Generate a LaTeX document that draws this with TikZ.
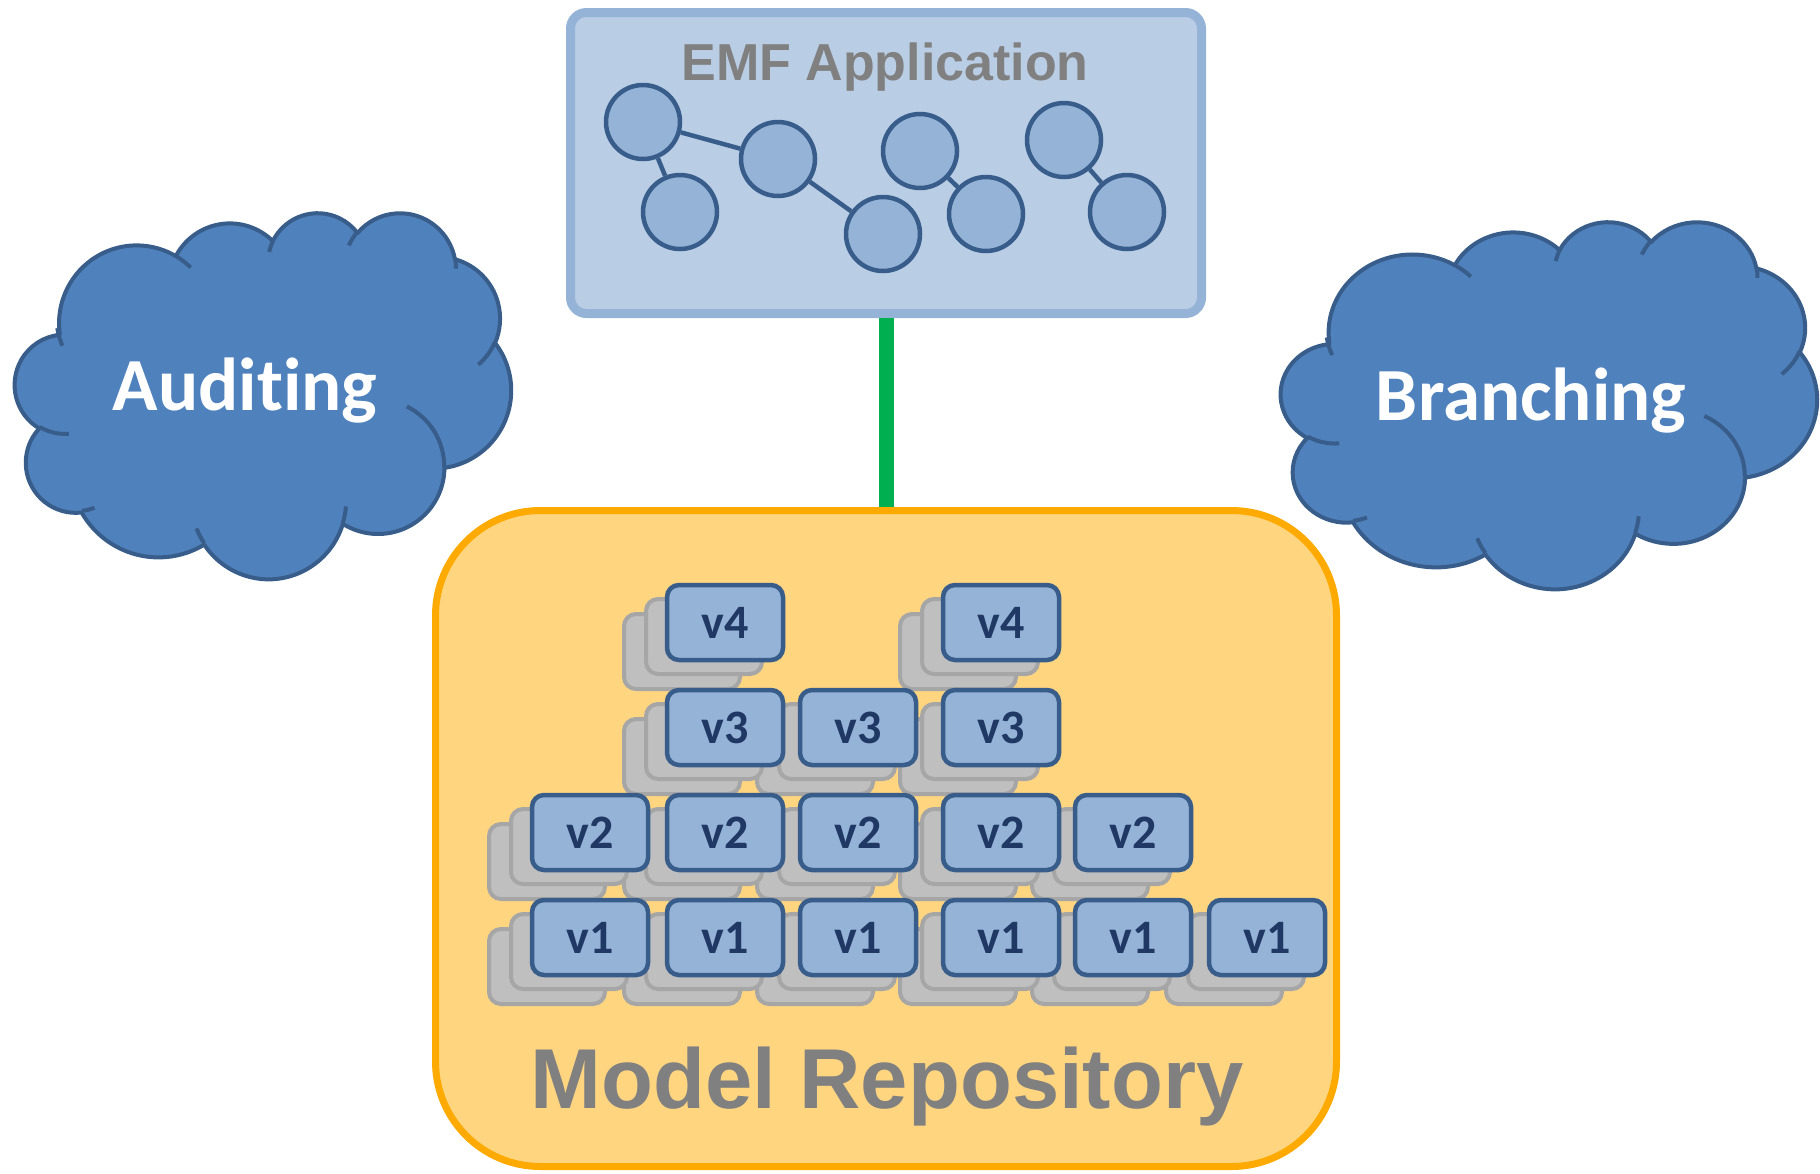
\documentclass[tikz,border=0pt]{standalone}
\usepackage{fontspec}
\setmainfont{Liberation Sans}
\newfontfamily\carlito[RawFeature={-liga}]{Carlito}
\definecolor{emfborder}{HTML}{95B3D7}
\definecolor{emffill}{HTML}{B9CDE5}
\definecolor{nodefill}{HTML}{95B3D7}
\definecolor{darkblue}{HTML}{385D8A}
\definecolor{greenline}{HTML}{00B050}
\definecolor{repofill}{HTML}{FFD580}
\definecolor{repoborder}{HTML}{FFAA00}
\definecolor{grayfill}{HTML}{BFBFBF}
\definecolor{grayborder}{HTML}{A6A6A6}
\definecolor{cloudfill}{HTML}{4F81BD}
\definecolor{labelnavy}{HTML}{1F3864}
\definecolor{titlegray}{HTML}{808080}

% visual (OOXML) angles -> parametric start angle and positive sweep
\newcommand\cloudpre[6]{%
  \pgfmathsetmacro#1{atan2((#3)*sin(#5),(#4)*cos(#5))}%
  \pgfmathsetmacro\cloudtmp{atan2((#3)*sin((#5)+(#6)),(#4)*cos((#5)+(#6)))}%
  \pgfmathsetmacro#2{mod((\cloudtmp)-(#1)+720,360)}%
}
\newcommand\cloudshape[4]{% x0 y0 w h
  \pgfmathsetmacro\cloudsx{#3/432}%
  \pgfmathsetmacro\cloudsy{#4/432}%
  \begin{scope}[shift={(#1,#2)}, x=\cloudsx pt, y=-\cloudsy pt]
    \filldraw[cloudbody] (39.00,143.70)
      arc[x radius=67.53, y radius=91.90, start angle=\cstA, delta angle=\cdlA]
      arc[x radius=53.33, y radius=72.67, start angle=\cstB, delta angle=\cdlB]
      arc[x radius=43.65, y radius=59.45, start angle=\cstC, delta angle=\cdlC]
      arc[x radius=48.57, y radius=65.95, start angle=\cstD, delta angle=\cdlD]
      arc[x radius=53.33, y radius=72.73, start angle=\cstE, delta angle=\cdlE]
      arc[x radius=67.75, y radius=92.20, start angle=\cstF, delta angle=\cdlF]
      arc[x radius=57.85, y radius=78.67, start angle=\cstG, delta angle=\cdlG]
      arc[x radius=67.52, y radius=92.15, start angle=\cstH, delta angle=\cdlH]
      arc[x radius=77.20, y radius=105.43, start angle=\cstI, delta angle=\cdlI]
      arc[x radius=43.60, y radius=59.18, start angle=\cstJ, delta angle=\cdlJ]
      arc[x radius=43.45, y radius=59.45, start angle=\cstK, delta angle=\cdlK]
      -- cycle;
    \draw[cloudline]
      (46.93,261.77) arc[x radius=43.45, y radius=59.45, start angle=\istA, delta angle=\idlA]
      (69.28,348.99) arc[x radius=43.60, y radius=59.18, start angle=\istB, delta angle=\idlB]
      (164.78,390.90) arc[x radius=67.52, y radius=92.15, start angle=\istC, delta angle=\idlC]
      (288.27,347.51) arc[x radius=67.52, y radius=92.15, start angle=\istD, delta angle=\idlD]
      (341.29,229.54) arc[x radius=57.85, y radius=78.67, start angle=\istE, delta angle=\idlE]
      (417.98,153.54) arc[x radius=53.33, y radius=72.73, start angle=\istF, delta angle=\idlF]
      (383.24,54.26) arc[x radius=48.57, y radius=65.95, start angle=\istG, delta angle=\idlG]
      (290.78,39.52) arc[x radius=48.57, y radius=65.95, start angle=\istH, delta angle=\idlH]
      (221.41,47.20) arc[x radius=43.65, y radius=59.45, start angle=\istI, delta angle=\idlI]
      (140.00,51.92) arc[x radius=67.53, y radius=91.90, start angle=\istJ, delta angle=\idlJ]
      (41.27,157.89) arc[x radius=67.53, y radius=91.90, start angle=\istK, delta angle=\idlK];
  \end{scope}
}
\newcommand\vstack[4]{% name cx cy label
  \node[grayblk] (#1g2) at (#2-43,#3+29) {};
  \node[grayblk] (#1g1) at (#2-21,#3+14) {};
  \node[blueblk] (#1) at (#2,#3) {#4};
}

\begin{document}
\begin{tikzpicture}[x=1pt, y=-1pt,
  cloudbody/.style={fill=cloudfill, draw=darkblue, line width=4pt, line join=round},
  cloudline/.style={draw=darkblue, line width=4pt},
  grayblk/.style={draw=grayborder, fill=grayfill, line width=4pt, rounded corners=12pt,
    minimum width=116pt, minimum height=75pt, inner sep=0pt},
  blueblk/.style={draw=darkblue, fill=nodefill, line width=4.5pt, rounded corners=12pt,
    minimum width=116pt, minimum height=75pt, inner sep=0pt,
    font=\carlito\bfseries\fontsize{48}{54}\selectfont, text=labelnavy},
  molnode/.style={circle, draw=darkblue, fill=nodefill, line width=4.5pt,
    minimum size=74pt, inner sep=0pt},
  moledge/.style={draw=darkblue, line width=4.5pt},
  titletext/.style={font=\bfseries, text=titlegray, anchor=base, inner sep=0pt},
  cloudtext/.style={font=\carlito\bfseries\fontsize{75}{85}\selectfont, text=white, anchor=base, inner sep=0pt}
]
\useasboundingbox (0,0) rectangle (1820,1173);

% cloud angle precomputation
\cloudpre{\cstA}{\cdlA}{67.53}{91.90}{-190.4875}{123.7805}
\cloudpre{\cstB}{\cdlB}{53.33}{72.67}{-144.1024}{89.9452}
\cloudpre{\cstC}{\cdlC}{43.65}{59.45}{-145.8079}{99.7230}
\cloudpre{\cstD}{\cdlD}{48.57}{65.95}{-130.9861}{117.2417}
\cloudpre{\cstE}{\cdlE}{53.33}{72.73}{-78.7089}{109.0269}
\cloudpre{\cstF}{\cdlF}{67.75}{92.20}{-46.2673}{130.2690}
\cloudpre{\cstG}{\cdlG}{57.85}{78.67}{0.6250}{114.0333}
\cloudpre{\cstH}{\cdlH}{67.52}{92.15}{22.4516}{115.1726}
\cloudpre{\cstI}{\cdlI}{77.20}{105.43}{66.2426}{75.7110}
\cloudpre{\cstJ}{\cdlJ}{43.60}{59.18}{-274.9421}{146.7356}
\cloudpre{\cstK}{\cdlK}{43.45}{59.45}{-246.8285}{152.5189}
\cloudpre{\istA}{\idlA}{43.45}{59.45}{86.7420}{26.4295}
\cloudpre{\istB}{\idlB}{43.60}{59.18}{73.6105}{11.4475}
\cloudpre{\istC}{\idlC}{67.52}{92.15}{137.6242}{14.0811}
\cloudpre{\istD}{\idlD}{67.52}{92.15}{6.4533}{15.9984}
\cloudpre{\istE}{\idlE}{57.85}{78.67}{-70.2924}{70.9174}
\cloudpre{\istF}{\idlF}{53.33}{72.73}{30.3180}{27.7515}
\cloudpre{\istG}{\idlG}{48.57}{65.95}{-13.7443}{14.8589}
\cloudpre{\istH}{\idlH}{48.57}{65.95}{-149.1815}{18.1954}
\cloudpre{\istI}{\idlI}{43.65}{59.45}{-163.4943}{17.6864}
\cloudpre{\istJ}{\idlJ}{67.53}{91.90}{-66.7070}{12.3194}
\cloudpre{\istK}{\idlK}{67.53}{91.90}{150.0724}{17.2694}

% clouds
\cloudshape{15}{212}{496}{366}
\node[cloudtext] (auditing) at (245,410) {Auditing};
\cloudshape{1281}{221}{536}{367}
\node[cloudtext] (branching) at (1531,420) {Branching};

% EMF application box
\node[draw=emfborder, fill=emffill, line width=9pt, rounded corners=16pt,
  minimum width=631pt, minimum height=301pt, inner sep=0pt] (emf) at (886,163) {};
\node[titletext, font=\bfseries\fontsize{52}{60}\selectfont] (emftitle) at (885,80) {EMF Application};

\node[molnode] (c1) at (643,122) {};
\node[molnode] (c2) at (778,159) {};
\node[molnode] (c3) at (680,212) {};
\node[molnode] (c4) at (883,234) {};
\node[molnode] (c5) at (920,151) {};
\node[molnode] (c6) at (986,214) {};
\node[molnode] (c7) at (1064,140) {};
\node[molnode] (c8) at (1127,212) {};
\draw[moledge] (c1) -- (c2);
\draw[moledge] (c1) -- (c3);
\draw[moledge] (c2) -- (c4);
\draw[moledge] (c5) -- (c6);
\draw[moledge] (c7) -- (c8);

% repository box
\node[draw=repoborder, fill=repofill, line width=7pt, rounded corners=105pt,
  minimum width=901pt, minimum height=656pt, inner sep=0pt] (repo) at (886,838.5) {};
\node[titletext, font=\bfseries\fontsize{85}{95}\selectfont] (repotitle) at (887,1108) {Model Repository};

% connector
\draw[greenline, line width=15pt] (emf.south) -- (repo.north);

% version stacks, right to left
\vstack{F1}{1267}{937.5}{v1}
\vstack{E2}{1133}{832.5}{v2}
\vstack{E1}{1133}{937.5}{v1}
\vstack{D4}{1001}{622.5}{v4}
\vstack{D3}{1001}{727.5}{v3}
\vstack{D2}{1001}{832.5}{v2}
\vstack{D1}{1001}{937.5}{v1}
\vstack{C3}{858}{727.5}{v3}
\vstack{C2}{858}{832.5}{v2}
\vstack{C1}{858}{937.5}{v1}
\vstack{B4}{725}{622.5}{v4}
\vstack{B3}{725}{727.5}{v3}
\vstack{B2}{725}{832.5}{v2}
\vstack{B1}{725}{937.5}{v1}
\vstack{A2}{590}{832.5}{v2}
\vstack{A1}{590}{937.5}{v1}
\end{tikzpicture}
\end{document}
